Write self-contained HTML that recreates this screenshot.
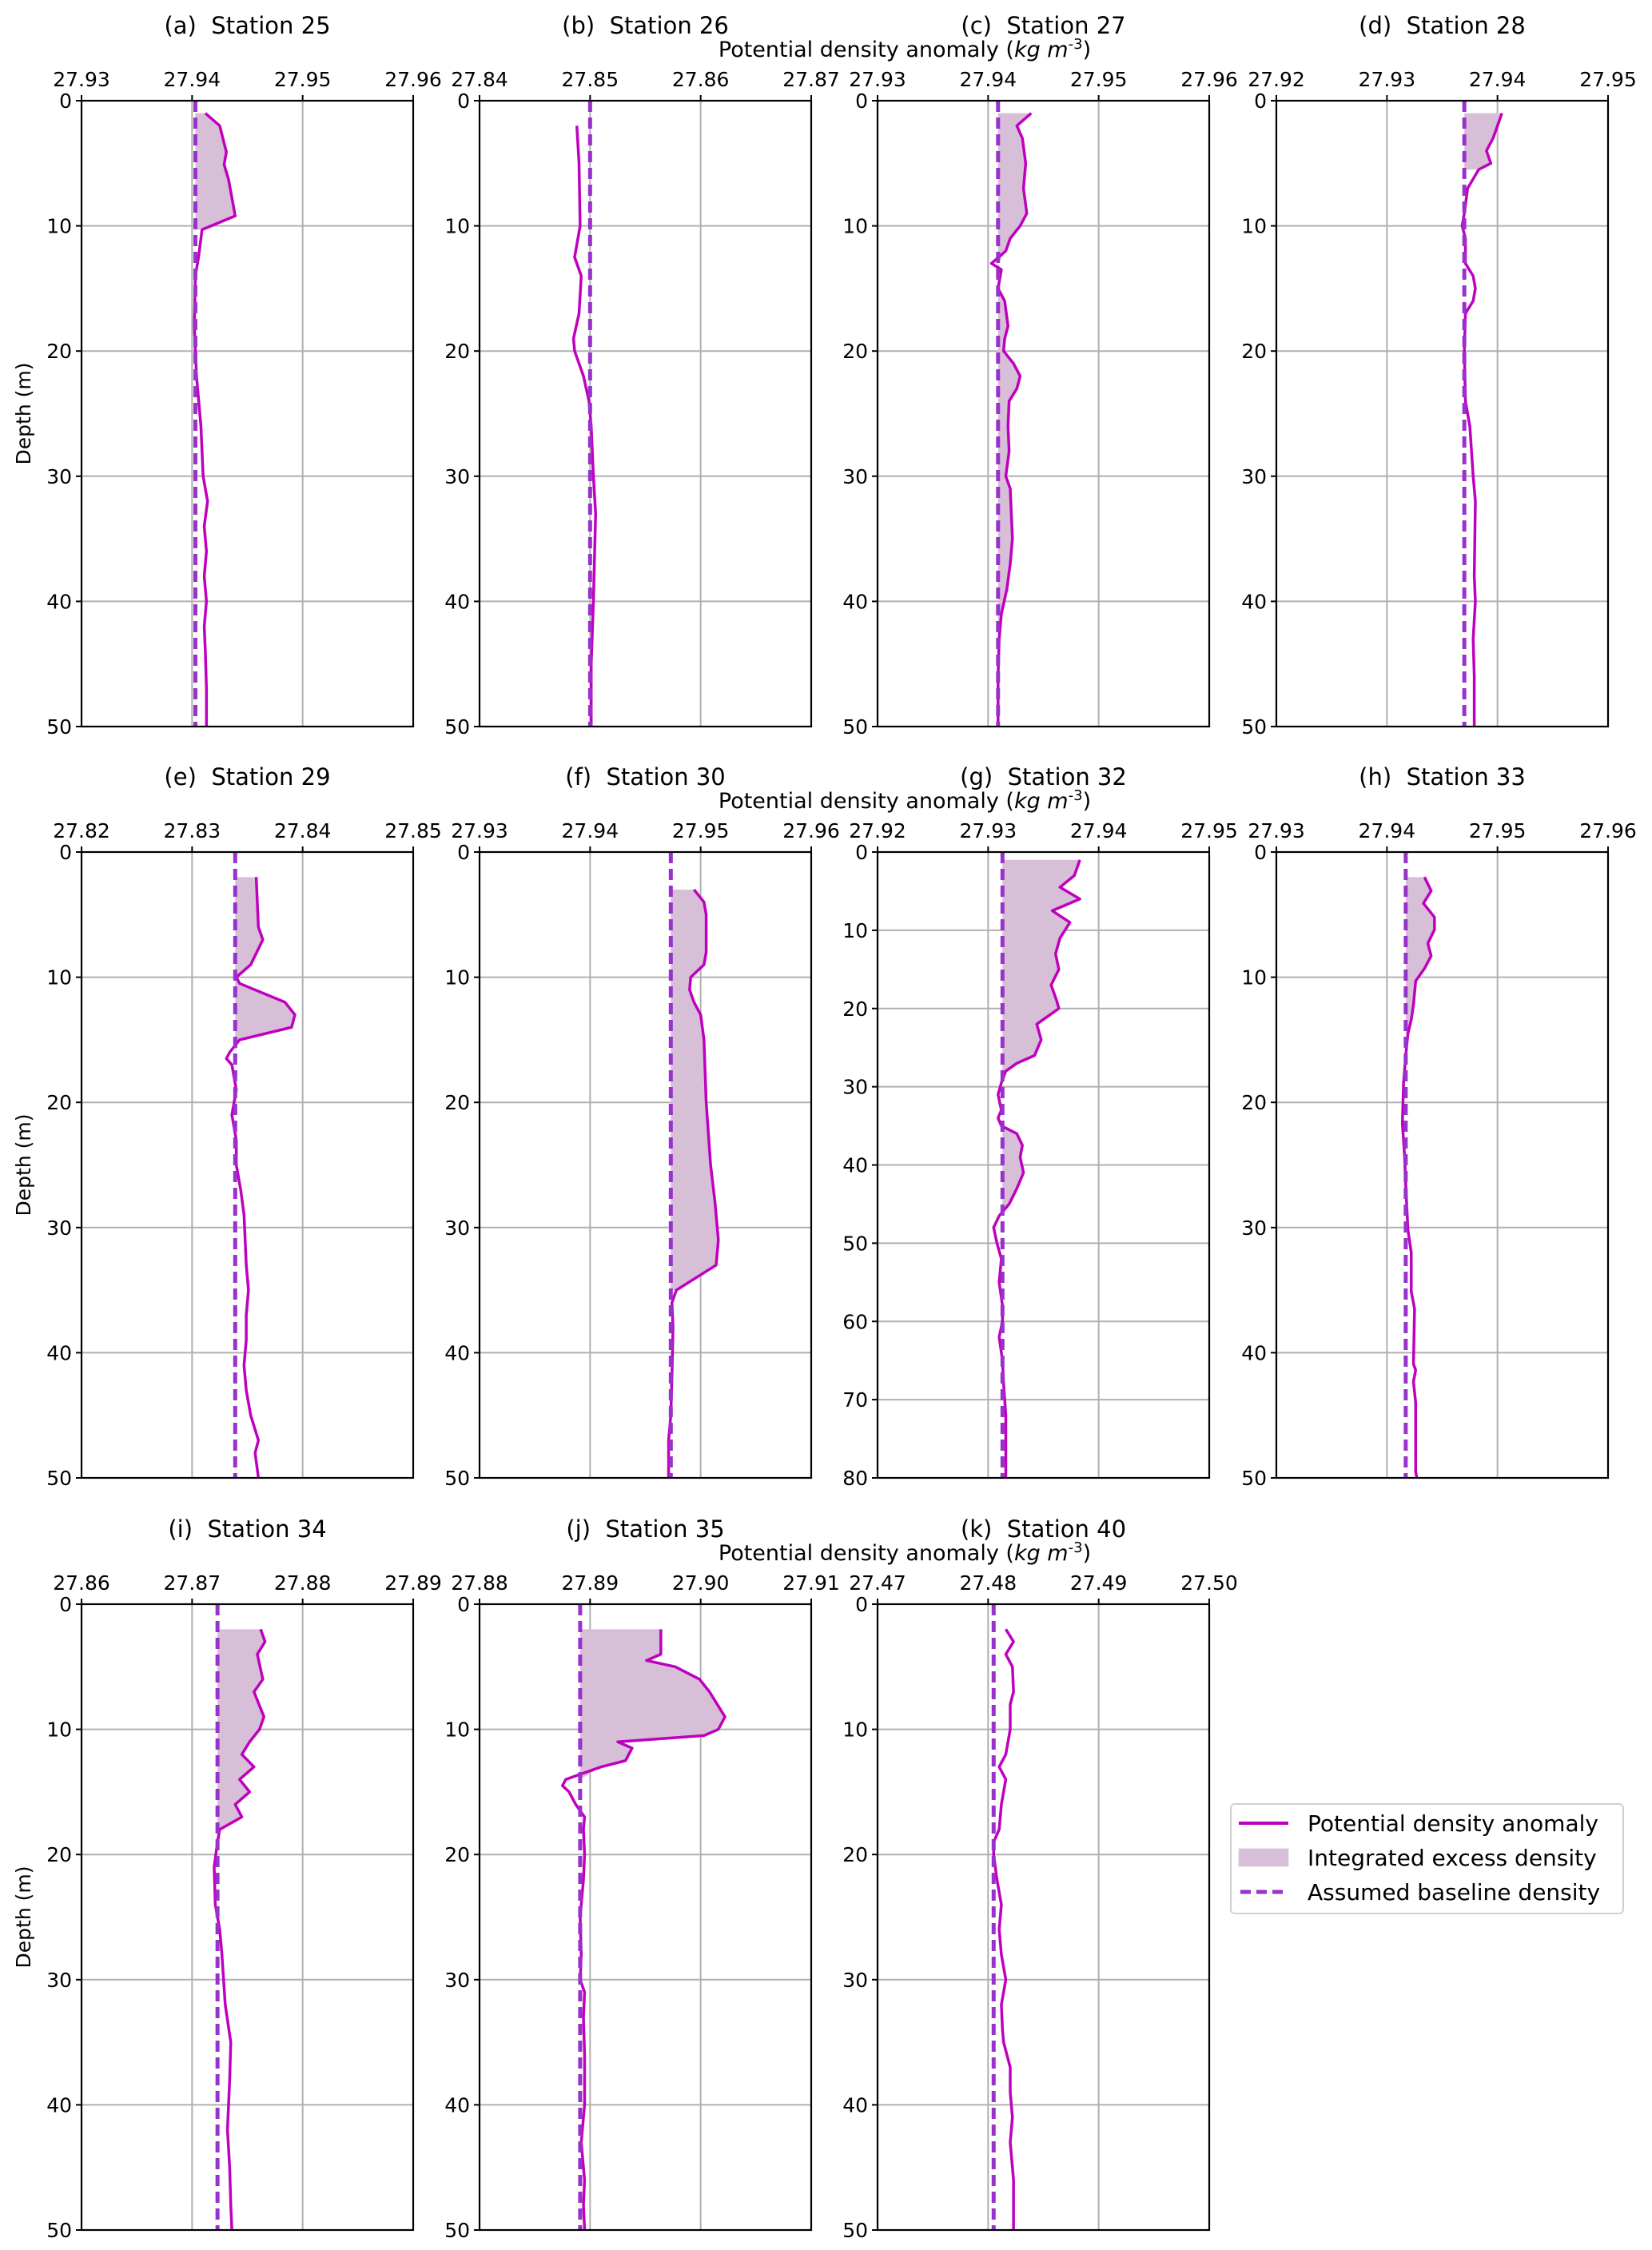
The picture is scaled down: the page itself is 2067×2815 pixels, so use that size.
<!DOCTYPE html>
<html><head><meta charset="utf-8"><style>
html,body{margin:0;padding:0;background:#fff;}
svg{display:block;font-family:"DejaVu Sans","Liberation Sans",sans-serif;}
text{white-space:pre;}
</style></head><body>
<svg id="fig" width="2067" height="2815" viewBox="0 0 2067 2815" xmlns="http://www.w3.org/2000/svg">
<rect width="2067" height="2815" fill="#fff"/>
<g id="legend">
<rect x="1540" y="2257" width="491" height="137" rx="5" fill="#fff" stroke="#d0d0d0" stroke-width="2"/>
<line x1="1550" y1="2281" x2="1612" y2="2281" stroke="#bf00bf" stroke-width="4"/>
<text x="1636" y="2291" font-size="28">Potential density anomaly</text>
<rect x="1550" y="2313" width="62" height="22" fill="#d8bfd8" stroke="#e0c8e0"/>
<text x="1636" y="2334" font-size="28">Integrated excess density</text>
<line x1="1552" y1="2367" x2="1612" y2="2367" stroke="#9932cc" stroke-width="5" stroke-dasharray="13,7"/>
<text x="1636" y="2377" font-size="28">Assumed baseline density</text>
</g>
</svg>
<script>
const titles = ["(a)  Station 25","(b)  Station 26","(c)  Station 27","(d)  Station 28","(e)  Station 29","(f)  Station 30","(g)  Station 32","(h)  Station 33","(i)  Station 34","(j)  Station 35","(k)  Station 40"];
const xMins = [27.93,27.84,27.93,27.92,27.82,27.93,27.92,27.93,27.86,27.88,27.47];
const depthMax = [50,50,50,50,50,50,80,50,50,50,50];
const baselines = [27.9403,27.8500,27.9409,27.9370,27.8339,27.9473,27.9313,27.9417,27.8723,27.8891,27.4805];
const fillDepths = [10.5,0,45,6,16,35,47,15,18,14,0];
const depths = [
[1,2,4.1,5.1,6.3,9.2,10.3,12.4,14,18,22,26,30,32,34,36,38,40,42,44,47,50],
[2,5,10,12.5,14,17,19,20,22,24,26,30,33,40,45,50],
[1,2,3,5,7,9,10,11,12,13,13.5,15,16,18,19,20,21,22,23,24,26,28,30,31,33,35,37,39,41,43,46,50],
[1,3,4,5,5.5,7,9,10,11,13,14,15,16,17,20,24,26,30,32,38,40,43,46,50],
[2,6,7,9,10,10.5,12,13,14,15,16,16.5,17,19,21,22,23,25,27,29,31,33,35,37,39,41,43,45,47,48,50],
[3,4,5,8,9,10,11,12,13,15,20,25,28,31,33,34,35,36,38,42,45,47,50],
[1,3,4.5,6,7.5,9,11,13,15,17,19,20,22,24,26,27,28,29.5,31,33,34,35,36,37.5,39,41,43,45,46.5,48,50,52,55,58,60,62,65,68,72,76,80],
[2,3.1,4.1,5.2,6.2,7.3,8.3,9.3,10.3,12.2,13.4,14.5,16.3,18.5,21.7,24.3,26.6,30.2,32,35.1,36.5,40.9,41.4,42.3,44,49.5,50],
[2,3,4,6,7,9,10,11,12,13,14,15,16,17,18,19,21,24,26,28,32,35,38,42,45,48,50],
[2,4,4.5,5,6,7,9,10,10.5,11,11.5,12.5,13,14,14.5,15,16,17,18,20,22,25,28,30,31,33,36,40,43,46,48,50],
[2,3,4,5,7,8,10,12,13,14,16,18,19,20,22,24,26,28,30,32,34,35,37,39,41,43,46,50]
];
const densities = [
[27.9412,27.9425,27.9431,27.9429,27.9433,27.9439,27.9409,27.9406,27.9403,27.9402,27.9404,27.9408,27.9410,27.9414,27.9411,27.9413,27.9411,27.9413,27.9411,27.9412,27.9413,27.9413],
[27.8488,27.8490,27.8491,27.8486,27.8492,27.8490,27.8485,27.8486,27.8494,27.8499,27.8501,27.8503,27.8505,27.8503,27.8501,27.8501],
[27.9439,27.9426,27.9431,27.9434,27.9432,27.9435,27.9429,27.9420,27.9416,27.9403,27.9412,27.9409,27.9415,27.9418,27.9415,27.9414,27.9423,27.9429,27.9426,27.9419,27.9418,27.9419,27.9416,27.9420,27.9421,27.9422,27.9420,27.9417,27.9412,27.9410,27.9409,27.9409],
[27.9404,27.9396,27.9390,27.9394,27.9383,27.9373,27.9370,27.9368,27.9371,27.9371,27.9378,27.9380,27.9378,27.9371,27.9370,27.9371,27.9375,27.9378,27.9380,27.9379,27.9380,27.9378,27.9379,27.9379],
[27.8358,27.8360,27.8364,27.8353,27.8340,27.8343,27.8384,27.8393,27.8390,27.8343,27.8334,27.8331,27.8336,27.8340,27.8336,27.8338,27.8340,27.8340,27.8344,27.8347,27.8348,27.8349,27.8351,27.8349,27.8349,27.8347,27.8349,27.8353,27.8360,27.8357,27.8360],
[27.9494,27.9503,27.9505,27.9505,27.9503,27.9491,27.9490,27.9494,27.9500,27.9503,27.9505,27.9509,27.9513,27.9516,27.9514,27.9496,27.9478,27.9474,27.9475,27.9474,27.9473,27.9471,27.9471],
[27.9383,27.9378,27.9365,27.9383,27.9358,27.9374,27.9365,27.9361,27.9364,27.9357,27.9362,27.9364,27.9344,27.9348,27.9342,27.9326,27.9316,27.9312,27.9309,27.9312,27.9309,27.9312,27.9326,27.9331,27.9329,27.9332,27.9326,27.9319,27.9310,27.9305,27.9308,27.9312,27.9310,27.9313,27.9313,27.9310,27.9313,27.9314,27.9316,27.9316,27.9316],
[27.9434,27.9440,27.9433,27.9443,27.9443,27.9437,27.9440,27.9434,27.9426,27.9424,27.9422,27.9419,27.9417,27.9415,27.9414,27.9416,27.9417,27.9419,27.9422,27.9422,27.9425,27.9424,27.9426,27.9424,27.9426,27.9426,27.9427],
[27.8762,27.8766,27.8759,27.8764,27.8756,27.8765,27.8761,27.8752,27.8745,27.8756,27.8743,27.8752,27.8739,27.8745,27.8725,27.8723,27.8720,27.8721,27.8725,27.8727,27.8730,27.8735,27.8734,27.8732,27.8734,27.8735,27.8736],
[27.8964,27.8964,27.8951,27.8977,27.8999,27.9008,27.9022,27.9016,27.9003,27.8925,27.8938,27.8932,27.8910,27.8878,27.8875,27.8881,27.8887,27.8895,27.8894,27.8895,27.8894,27.8891,27.8892,27.8891,27.8895,27.8894,27.8895,27.8895,27.8892,27.8895,27.8894,27.8895],
[27.4816,27.4823,27.4816,27.4822,27.4823,27.4820,27.4820,27.4816,27.4810,27.4816,27.4812,27.4810,27.4805,27.4805,27.4808,27.4812,27.4810,27.4812,27.4816,27.4812,27.4813,27.4814,27.4820,27.4820,27.4822,27.4820,27.4823,27.4823]
];

const NS = "http://www.w3.org/2000/svg";
const svg = document.getElementById("fig");
const colX = [102,600,1098,1597], rowY = [126,1066,2007];
const PW = 415, PH = 783;
function mk(tag, attrs, parent){ const e=document.createElementNS(NS,tag); for(const k in attrs) e.setAttribute(k,attrs[k]); (parent||svg).appendChild(e); return e; }

for(let p=0;p<titles.length;p++){
  const L = colX[p%4], T = rowY[Math.floor(p/4)];
  const x0 = xMins[p], x1 = xMins[p]+0.03, dmax = depthMax[p];
  const sx = v => L + (v-x0)/(x1-x0)*PW;
  const sy = d => T + d/dmax*PH;
  const g = mk("g",{});
  
  
  for(let i=0;i<=3;i++){
    const v = x0+0.01*i, X = sx(v);
    if(i>0 && i<3){ const gl=mk("line",{x1:X,y1:T,x2:X,y2:T+PH,stroke:"#b0b0b0","stroke-width":2},g);
        }
    mk("line",{x1:X,y1:T,x2:X,y2:T-7,stroke:"#000","stroke-width":2},g);
    const t = mk("text",{x:X,y:T-18,"font-size":25,"text-anchor":"middle"},g);
    t.textContent = v.toFixed(2);
     
  }
  for(let d=0; d<=dmax; d+=10){
    const Y = sy(d);
    if(d>0 && d<dmax){ const gl=mk("line",{x1:L,y1:Y,x2:L+PW,y2:Y,stroke:"#b0b0b0","stroke-width":2},g);
        }
    mk("line",{x1:L,y1:Y,x2:L-7,y2:Y,stroke:"#000","stroke-width":2},g);
    const t = mk("text",{x:L-12,y:Y+9,"font-size":25,"text-anchor":"end"},g);
    t.textContent = d;
     
  }
  const ds = depths[p], vs = densities[p], b = baselines[p], fd = fillDepths[p];
  const idx = []; for(let i=0;i<ds.length;i++) if(ds[i]<=fd) idx.push(i);
  if(idx.length>1){
    let pts = [[sx(b), sy(ds[idx[0]])]];
    idx.forEach(i=>pts.push([sx(Math.max(vs[i],b)), sy(ds[i])]));
    pts.push([sx(b), sy(ds[idx[idx.length-1]])]);
    const fill = mk("polygon",{points:pts.map(q=>q.join(",")).join(" "),fill:"#d8bfd8"},g);
     
  }
  const line = mk("polyline",{points:ds.map((d,i)=>sx(vs[i])+","+sy(d)).join(" "),fill:"none",stroke:"#bf00bf","stroke-width":3.5,"stroke-linejoin":"round"},g);
   
  const bl = mk("line",{x1:sx(b),y1:T,x2:sx(b),y2:T+PH,stroke:"#9932cc","stroke-width":5,"stroke-dasharray":"14,7"},g);
   
  const fr = mk("rect",{x:L,y:T,width:PW,height:PH,fill:"none",stroke:"#000","stroke-width":2.2},g);
   
  const tt = mk("text",{x:L+PW/2,y:T-84,"font-size":29,"text-anchor":"middle"},g);
  tt.textContent = titles[p];
   
}
for(let r=0;r<3;r++){
  const T = rowY[r];
  const xl = mk("text",{x:1132,y:T-55,"font-size":27,"text-anchor":"middle"});
  xl.innerHTML = 'Potential density anomaly (<tspan font-style="italic">kg m</tspan><tspan font-size="18" dy="-10">-3</tspan><tspan dy="10">)</tspan>';
   
  const yl = mk("text",{x:0,y:0,"font-size":25,"text-anchor":"middle",transform:`translate(38,${T+PH/2}) rotate(-90)`});
  yl.textContent = "Depth (m)";
   
}
svg.appendChild(document.getElementById("legend"));
</script>
</body></html>
